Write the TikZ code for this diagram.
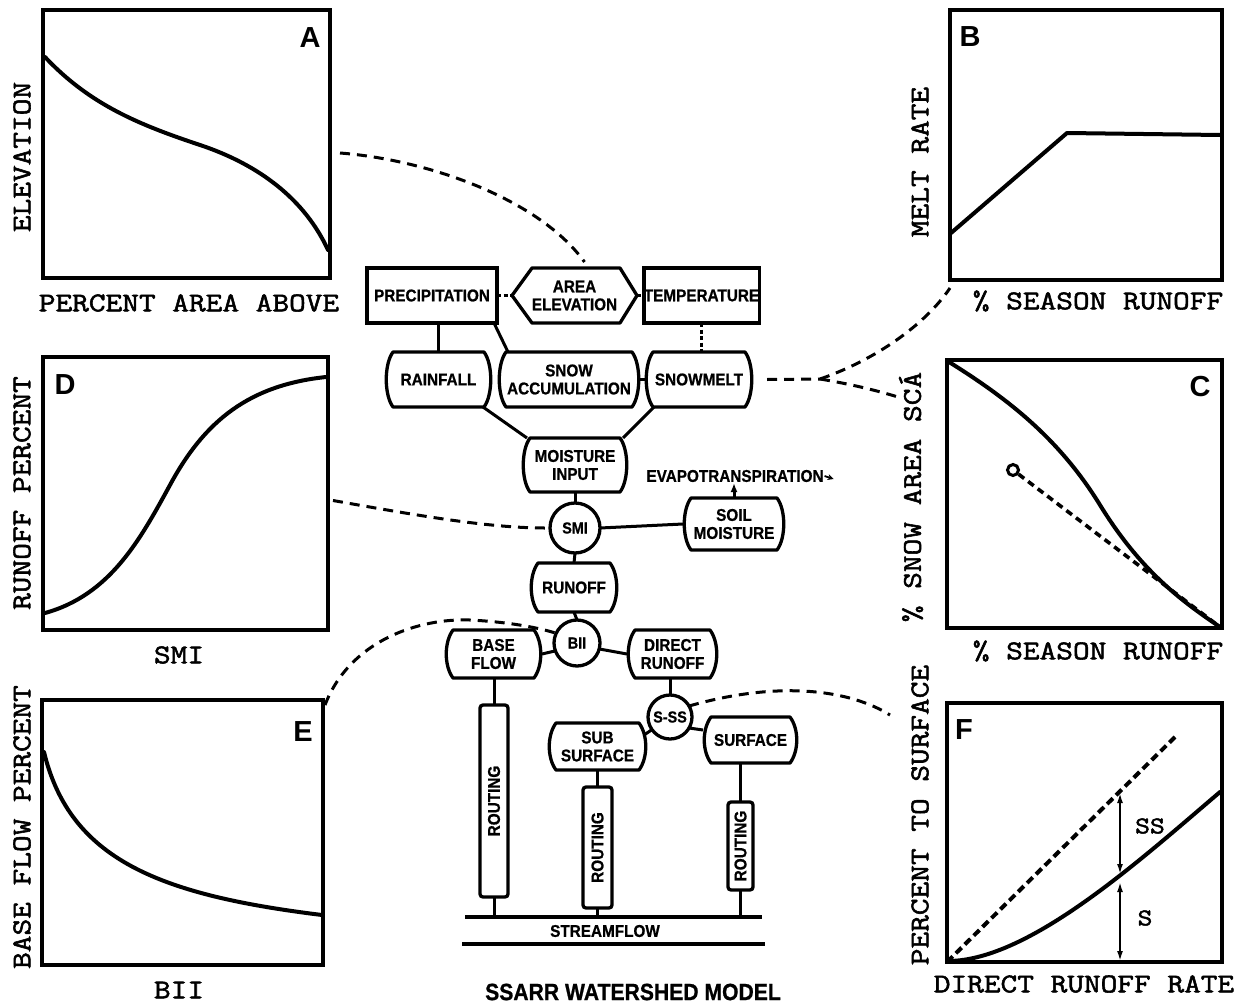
\documentclass[tikz,border=0pt]{standalone}
\usepackage{fontspec}
\setmainfont{Liberation Serif}
\newfontfamily\lblfont{Latin Modern Mono}[FakeStretch=1.2,FakeBold=2]
\newfontfamily\boxfont{Liberation Sans}[FakeStretch=0.9,FakeBold=0.8]
\newfontfamily\letfont{Liberation Sans}
\usetikzlibrary{arrows.meta}
\tikzset{
 panel/.style={draw,line width=4.2pt,inner sep=0,outer sep=0},
 curve/.style={line width=4pt,line cap=round,line join=round},
 axlbl/.style={font=\lblfont\fontsize{27}{27}\selectfont,inner sep=0},
 plet/.style={font=\letfont\bfseries\fontsize{29}{29}\selectfont,inner sep=0},
 cellnode/.style={inner sep=0,outer sep=0,align=center,font=\boxfont\bfseries\fontsize{17}{18}\selectfont},
 rectcell/.style={cellnode,draw,line width=3.3pt},
 circ/.style={circle,draw,line width=3.3pt,inner sep=0,outer sep=0,font=\boxfont\bfseries\fontsize{16}{16}\selectfont},
 conn/.style={line width=3pt},
 dconn/.style={line width=3pt,dash pattern=on 10pt off 7pt},
 sdconn/.style={line width=2.4pt,dash pattern=on 4pt off 2.5pt},
 cellline/.style={line width=3.3pt,line join=round},
 routebox/.style={draw,line width=3.3pt,rounded corners=3pt,inner sep=0,outer sep=0},
 tip/.style={-{Latex[length=9pt,width=7pt]}},
}
\newcommand\cellshape[1]{\draw[cellline] ([xshift=8pt]#1.north west) -- ([xshift=-8pt]#1.north east)
 .. controls ([xshift=1pt,yshift=-12pt]#1.north east) and ([xshift=1pt,yshift=12pt]#1.south east) .. ([xshift=-8pt]#1.south east)
 -- ([xshift=8pt]#1.south west)
 .. controls ([xshift=-1pt,yshift=12pt]#1.south west) and ([xshift=-1pt,yshift=-12pt]#1.north west) .. cycle;}
\begin{document}
\begin{tikzpicture}[x=1pt,y=-1pt]
\fill[white] (0,0) rectangle (1238,1006);
\useasboundingbox (0,0) rectangle (1238,1006);

% ---------- panels ----------
\node[panel,minimum width=287pt,minimum height=268pt] (pA) at (186.5,144) {};
\node[panel,minimum width=272pt,minimum height=270pt] (pB) at (1086,145) {};
\node[panel,minimum width=275pt,minimum height=268pt] (pC) at (1084.5,494) {};
\node[panel,minimum width=285pt,minimum height=273pt] (pD) at (185.5,493.5) {};
\node[panel,minimum width=281pt,minimum height=265pt] (pE) at (182.5,832.5) {};
\node[panel,minimum width=275pt,minimum height=259pt] (pF) at (1084.5,832.5) {};

\node[plet] (lA) at (310,38) {A};
\node[plet] (lB) at (970,37) {B};
\node[plet] (lC) at (1200,387) {C};
\node[plet] (lD) at (65,385) {D};
\node[plet] (lE) at (303,732) {E};
\node[plet] (lF) at (964,730) {F};

\node[axlbl,rotate=90] (yA) at (22,157) {ELEVATION};
\node[axlbl] (xA) at (189,303) {PERCENT AREA ABOVE};
\node[axlbl,rotate=90] (yB) at (920,162) {MELT RATE};
\node[axlbl] (xB) at (1098,301) {\% SEASON RUNOFF};
\node[axlbl,rotate=90] (yC) at (911,497) {\% SNOW AREA SC\'{A}};
\node[axlbl] (xC) at (1098,651) {\% SEASON RUNOFF};
\node[axlbl,rotate=90] (yD) at (22,493) {RUNOFF PERCENT};
\node[axlbl] (xD) at (179,655) {SMI};
\node[axlbl,rotate=90] (yE) at (22,827) {BASE FLOW PERCENT};
\node[axlbl] (xE) at (179,990) {BII};
\node[axlbl,rotate=90] (yF) at (920,815) {PERCENT TO SURFACE};
\node[axlbl] (xF) at (1084,984) {DIRECT RUNOFF RATE};

% curves
\draw[curve] (45,57) .. controls (90,105) and (140,125) .. (200,145) .. controls (260,165) and (305,200) .. (328,250);
\draw[curve] (951,233) -- (1067,133) -- (1220,135);
\draw[curve] (949,362) .. controls (1010,400) and (1060,440) .. (1100,505) .. controls (1140,570) and (1180,600) .. (1220,627);
\node[circle,draw,line width=3pt,minimum size=11pt,inner sep=0] (cO) at (1013,470) {};
\coordinate (cEnd) at (1220,627);
\draw[line width=3.6pt,dash pattern=on 7pt off 5pt] (cO) -- (cEnd);
\draw[curve] (45,613) .. controls (110,595) and (140,540) .. (170,485) .. controls (205,420) and (250,385) .. (326,377);
\draw[curve] (44,752) .. controls (70,860) and (160,895) .. (322,915);
% panel F
\coordinate (fTop) at (1175,737);
\draw[line width=4pt,dash pattern=on 8pt off 4.5pt] (pF.south west) -- (fTop);
\draw[curve] (949,961) .. controls (1030,960) and (1140,860) .. (1220,792);
\coordinate (a1t) at (1120,793);
\coordinate (a1b) at (1120,874);
\coordinate (a2t) at (1120,882);
\coordinate (a2b) at (1120,961);
\draw[line width=1.8pt,{Latex[length=10pt,width=6pt]}-{Latex[length=10pt,width=6pt]}] (a1t) -- (a1b);
\draw[line width=1.8pt,{Latex[length=10pt,width=6pt]}-{Latex[length=10pt,width=6pt]}] (a2t) -- (a2b);
\node[font=\lblfont\fontsize{24}{24}\selectfont,inner sep=0] (tSS) at (1150,826) {SS};
\node[font=\lblfont\fontsize{24}{24}\selectfont,inner sep=0] (tS) at (1145,918) {S};

% ---------- SSARR model ----------
\node[rectcell,minimum width=130pt,minimum height=55pt] (precip) at (432,295.5) {PRECIPITATION};
\node[cellnode,minimum width=125pt,minimum height=55pt] (areael) at (574.5,295.5) {AREA\\ELEVATION};
\draw[cellline] (areael.west) -- ([xshift=20pt]areael.north west) -- ([xshift=-17pt]areael.north east) -- (areael.east) -- ([xshift=-17pt]areael.south east) -- ([xshift=20pt]areael.south west) -- cycle;
\node[rectcell,minimum width=113pt,minimum height=55pt] (temp) at (701.5,295.5) {TEMPERATURE};

\node[cellnode,minimum width=107pt,minimum height=55pt] (rain) at (438.5,379.5) {RAINFALL};
\cellshape{rain}
\node[cellnode,minimum width=142pt,minimum height=55pt] (snowacc) at (569,379.5) {SNOW\\ACCUMULATION};
\cellshape{snowacc}
\node[cellnode,minimum width=108pt,minimum height=55pt] (snowmelt) at (699,379.5) {SNOWMELT};
\cellshape{snowmelt}

\node[cellnode,minimum width=106pt,minimum height=54pt] (moist) at (575,465) {MOISTURE\\INPUT};
\cellshape{moist}
\node[cellnode,inner sep=1pt] (evap) at (735,476) {EVAPOTRANSPIRATION};
\coordinate (evtip) at ([xshift=9pt,yshift=-3pt]evap.east);
\node[circ,minimum size=50pt] (smi) at (575,528) {SMI};
\node[cellnode,minimum width=102pt,minimum height=52pt] (soil) at (734,524) {SOIL\\MOISTURE};
\cellshape{soil}
\node[cellnode,minimum width=88pt,minimum height=49pt] (runoff) at (574,587.5) {RUNOFF};
\cellshape{runoff}
\node[circ,minimum size=46pt] (bii) at (577,643) {BII};
\node[cellnode,minimum width=97pt,minimum height=48pt] (base) at (493.5,654) {BASE\\FLOW};
\cellshape{base}
\node[cellnode,minimum width=91pt,minimum height=48pt] (direct) at (672.5,654) {DIRECT\\RUNOFF};
\cellshape{direct}
\node[circ,minimum size=44pt] (sss) at (670,717) {S-SS};
\node[cellnode,minimum width=99pt,minimum height=47pt] (subs) at (597.5,746.5) {SUB\\SURFACE};
\cellshape{subs}
\node[cellnode,minimum width=95pt,minimum height=46pt] (surf) at (750.5,740) {SURFACE};
\cellshape{surf}

\node[routebox,minimum width=28pt,minimum height=192pt] (r1) at (494,801) {};
\node[cellnode,rotate=90] (r1t) at (r1) {ROUTING};
\node[routebox,minimum width=29pt,minimum height=121pt] (r2) at (597.5,847.5) {};
\node[cellnode,rotate=90] (r2t) at (r2) {ROUTING};
\node[routebox,minimum width=25pt,minimum height=88pt] (r3) at (740.5,846) {};
\node[cellnode,rotate=90] (r3t) at (r3) {ROUTING};

\coordinate (sfTL) at (465,917);
\coordinate (sfTR) at (762,917);
\coordinate (sfBL) at (462,944);
\coordinate (sfBR) at (765,944);
\draw[line width=3.3pt] (sfTL) -- (sfTR);
\draw[line width=3.3pt] (sfBL) -- (sfBR);
\node[cellnode] (sf) at (605,931) {STREAMFLOW};
\node[cellnode,font=\boxfont\bfseries\fontsize{23.5}{24}\selectfont] (title) at (633,992) {SSARR WATERSHED MODEL};

% solid connectors
\draw[sdconn] (precip.east) -- (areael.west);
\draw[sdconn] (areael.east) -- (temp.west);
\draw[conn] (rain.north |- precip.south) -- (rain.north);
\draw[conn] ([xshift=-3pt]precip.south east) -- ([xshift=10pt]snowacc.north west);
\draw[conn] (snowacc.east) -- (snowmelt.west);
\draw[sdconn] (temp.south) -- (temp.south |- snowmelt.north);
\draw[conn] ([xshift=-9pt]rain.south east) -- ([xshift=5pt]moist.north west);
\draw[conn] ([xshift=9pt]snowmelt.south west) -- ([xshift=-5pt]moist.north east);
\draw[conn] (moist.south) -- (smi.north);
\draw[conn] (smi.east) -- (soil.west);
\draw[conn,tip] (soil.north) -- (soil.north |- evap.south);
\draw[line width=1.8pt,-{Stealth[length=6pt,width=6pt]}] (evap.east) -- (evtip);
\draw[conn] (smi.south) -- (runoff.north);
\draw[conn] (runoff.south) -- (bii.north);
\draw[conn] (bii.200) -- (base.east);
\draw[conn] (bii.345) -- (direct.west);
\draw[conn] (sss.north |- direct.south) -- (sss.north);
\draw[conn] (sss.215) -- ([xshift=-3pt,yshift=-12pt]subs.north east);
\draw[conn] (sss.330) -- ([yshift=-13pt]surf.north west);
\draw[conn] (r1.north |- base.south) -- (r1.north);
\draw[conn] (r2.north |- subs.south) -- (r2.north);
\draw[conn] (r3.north |- surf.south) -- (r3.north);
\draw[conn] (r1.south) -- (r1.south |- sfTL);
\draw[conn] (r2.south) -- (r2.south |- sfTL);
\draw[conn] (r3.south) -- (r3.south |- sfTL);

% dashed links to panels
\draw[dconn] ([xshift=10pt,yshift=-9pt]pA.east) .. controls (430,160) and (540,200) .. ([xshift=10pt,yshift=6pt]areael.north);
\coordinate (split) at (820,379);
\coordinate (cLink) at (898,397);
\draw[dconn] ([xshift=14pt]snowmelt.east) -- (split);
\draw[dconn] (split) .. controls (875,360) and (925,325) .. ([yshift=-8pt]pB.south west);
\draw[dconn] (split) .. controls (850,384) and (875,390) .. (cLink);
\draw[dconn] ([xshift=5pt,yshift=-7pt]pD.east) .. controls (420,516) and (490,528) .. ([xshift=-5pt]smi.west);
\draw[dconn] ([xshift=2pt,yshift=-5pt]pE.north east) .. controls (350,640) and (420,618) .. (470,620) .. controls (510,622) and (540,628) .. (bii.155);
\draw[dconn] (sss.30) .. controls (780,680) and (850,690) .. ([xshift=-57pt,yshift=-12pt]pF.north west);
\end{tikzpicture}
\end{document}
